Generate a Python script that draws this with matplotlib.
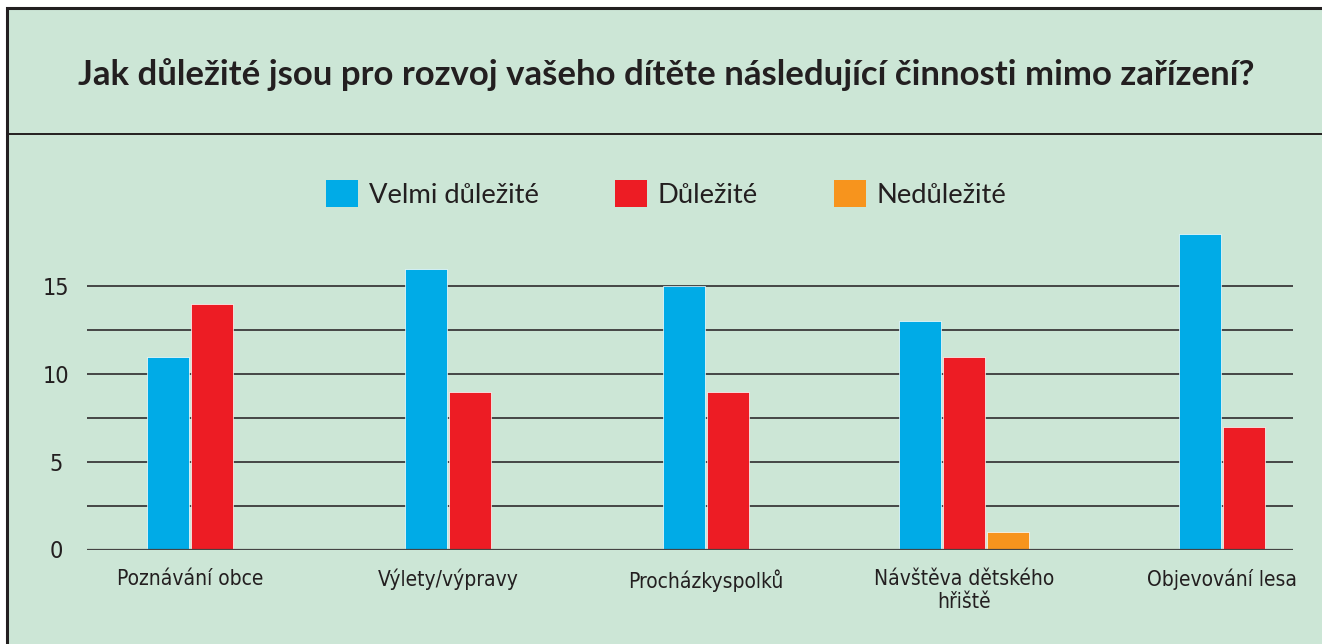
import matplotlib
matplotlib.use("Agg")
import matplotlib.pyplot as plt
from matplotlib import font_manager
import numpy as np
from matplotlib.patches import Rectangle

# ── data ──────────────────────────────────────────────────────────────────────
categories = ["Poznávání obce", "Výlety/výpravy", "Procházkyspolků",
              "Návštěva dětského\nhřiště", "Objevování lesa"]
series_names = ["Velmi důležité", "Důležité", "Nedůležité"]
velmi = [11, 16, 15, 13, 18]
dulezite = [14, 9, 9, 11, 7]
nedulezite = [0, 0, 0, 1, 0]
title = "Jak důležité jsou pro rozvoj vašeho dítěte následující činnosti mimo zařízení?"

colors = ["#00abe7", "#ed1c24", "#f7941d"]
bg = "#cce6d6"
dark = "#231f20"

# pick a narrow face for the axis labels if one is installed
entries = font_manager.fontManager.ttflist
names = {f.name for f in entries}
if "Liberation Sans Narrow" in names:
    cond = {"family": "Liberation Sans Narrow"}
elif any(f.name == "DejaVu Sans" and f.stretch == "condensed" for f in entries):
    cond = {"family": "DejaVu Sans", "stretch": "condensed"}
else:
    cond = {"family": "Lato"}

W, H = 1322, 644
fig = plt.figure(figsize=(W / 100, H / 100), dpi=100)
fig.patch.set_facecolor("white")
renderer = fig.canvas.get_renderer()

# scale the label font so "Poznávání obce" is roughly as wide as in the source
probe = fig.text(0, 0, categories[0], size=10, **cond)
lab_size = 10 * 146 / probe.get_window_extent(renderer).width
probe.remove()

# framed green panel (left and top borders visible, runs off right/bottom)
fig.patches.append(Rectangle((7 / W, -0.05), 1.1, 1 - 8 / H + 0.05,
                             transform=fig.transFigure, facecolor=bg,
                             edgecolor=dark, linewidth=2.2, zorder=-10))
# divider under the title
fig.add_artist(plt.Line2D([7 / W, 1], [1 - 134 / H] * 2, color=dark,
                          linewidth=1.4, transform=fig.transFigure, zorder=-5))

fig.text(666 / W, 1 - 75 / H, title, ha="center", va="center",
         fontsize=25, fontweight="bold", family="Lato", color=dark)

ax = fig.add_axes([87 / W, (H - 549.5) / H, (1293 - 87) / W, (549.5 - 225) / H])
ax.set_facecolor("none")
ax.set_zorder(1)

series = [velmi, dulezite, nedulezite]
x = np.arange(len(categories))
bw = 0.163
step = 0.172
for i, cat in enumerate(categories):
    present = [k for k in range(3) if series[k][i] > 0]
    n = len(present)
    for j, k in enumerate(present):
        off = (j - (n - 1) / 2) * step
        ax.bar(x[i] + off, series[k][i], width=bw, color=colors[k],
               edgecolor="white", linewidth=0.5, zorder=2)

handles = [Rectangle((0, 0), 1, 1, facecolor=c) for c in colors]

ax.set_xlim(-0.399, 4.275)
ax.set_ylim(0, 18.5)
ax.set_yticks([0, 5, 10, 15])
ax.set_yticks([2.5, 7.5, 12.5], minor=True)
ax.grid(True, which="both", axis="y", color="#3a3a3a", linewidth=1.3)
ax.set_axisbelow(True)
ax.axhline(0, color="#444444", linewidth=1.6, zorder=3)
for s in ax.spines.values():
    s.set_visible(False)

ax.set_xticks(x)
ax.set_xticklabels(categories, fontsize=lab_size, color=dark,
                   linespacing=1.2, **cond)
ax.tick_params(axis="x", length=0, pad=14)
ax.tick_params(axis="y", which="both", length=0, pad=22)
for lab in ax.get_yticklabels():
    lab.update(cond)
    lab.set_size(lab_size * 1.12)
    lab.set_color(dark)
    lab.set_ha("center")

fig.legend(handles, series_names, loc="center", ncol=3,
           bbox_to_anchor=(666.5 / W, 1 - 194 / H), frameon=False,
           prop={"family": "Lato", "size": 19.7}, labelcolor=dark,
           handlelength=1.15, handleheight=1.15, handletextpad=0.4,
           columnspacing=2.8, borderpad=0)

fig.savefig("out.png", dpi=100)
